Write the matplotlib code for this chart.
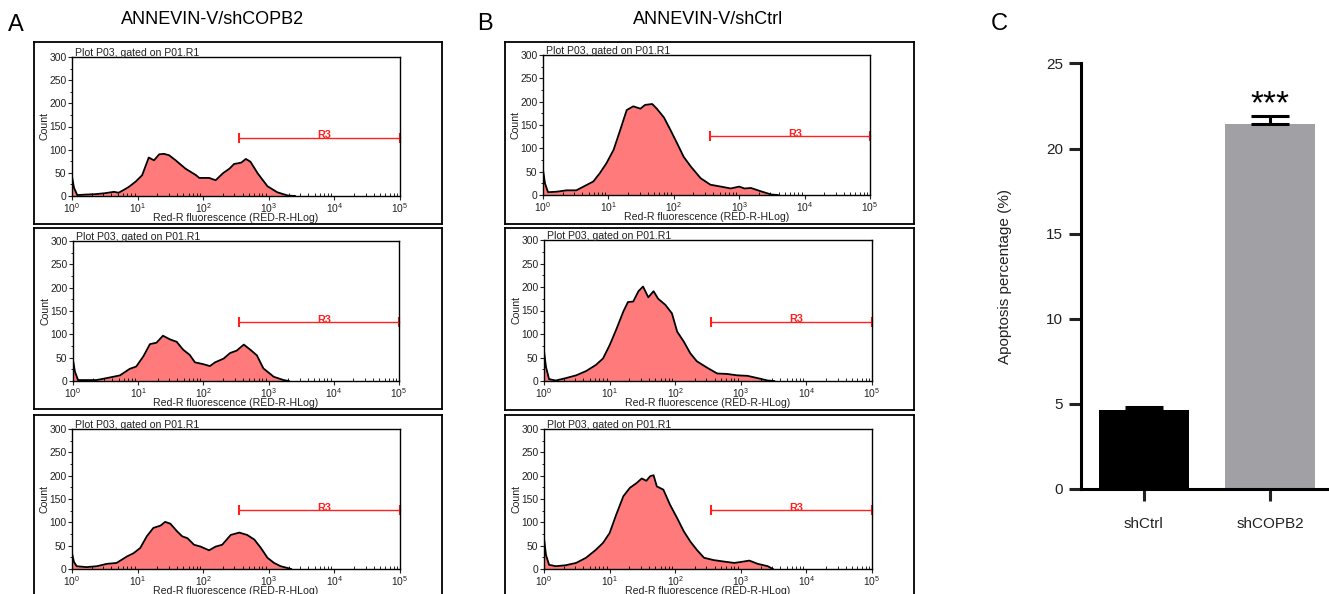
import numpy as np
import matplotlib
matplotlib.use("Agg")
import matplotlib.pyplot as plt
from matplotlib.ticker import MultipleLocator, LogLocator, NullFormatter

plt.rcParams['font.family'] = ['Liberation Sans', 'DejaVu Sans']
plt.rcParams['mathtext.default'] = 'regular'

W, H = 1329, 594

# flow histograms: x in log10(fluorescence), y = count
a1_log = [0, 0, 0.03, 0.08, 0.2, 0.36, 0.5, 0.64, 0.71, 0.8, 0.87, 0.97, 1.07, 1.17, 1.25, 1.33, 1.40, 1.48,
          1.58, 1.73, 1.89, 1.94, 2.09, 2.19, 2.30, 2.40, 2.47, 2.58, 2.65, 2.72, 2.83, 2.98, 3.13, 3.29, 3.4]
a1_cnt = [0, 42, 18, 2, 3, 4, 6, 9, 7, 14, 20, 31, 45, 83, 77, 90, 91, 88,
          77, 59, 45, 39, 39, 34, 49, 59, 69, 72, 80, 74, 49, 21, 8, 1, 0]

a2_log = [0, 0, 0.03, 0.077, 0.21, 0.36, 0.51, 0.72, 0.87, 0.97, 1.08, 1.18, 1.28, 1.38, 1.49, 1.59,
          1.69, 1.79, 1.87, 2.0, 2.10, 2.18, 2.31, 2.41, 2.51, 2.62, 2.72, 2.82, 2.92, 3.08, 3.23, 3.31]
a2_cnt = [0, 45, 20, 2, 2, 2, 6, 12, 26, 31, 53, 79, 82, 97, 89, 84,
          67, 56, 40, 36, 32, 40, 48, 60, 65, 78, 67, 55, 27, 9, 2, 0]

a3_log = [0, 0, 0.03, 0.071, 0.22, 0.38, 0.53, 0.68, 0.84, 0.94, 1.04, 1.14, 1.24, 1.35, 1.42, 1.50, 1.60,
          1.68, 1.76, 1.86, 1.96, 2.09, 2.19, 2.29, 2.42, 2.55, 2.67, 2.78, 2.88, 2.98, 3.08, 3.18, 3.29, 3.34]
a3_cnt = [0, 34, 15, 6, 4, 6, 11, 13, 27, 34, 45, 70, 88, 93, 101, 97, 81,
          70, 66, 52, 48, 40, 48, 52, 73, 78, 73, 63, 45, 24, 13, 6, 2, 0]

b1_log = [0, 0, 0.03, 0.077, 0.205, 0.36, 0.51, 0.62, 0.77, 0.87, 0.97, 1.08, 1.18, 1.28, 1.38, 1.49, 1.56,
          1.67, 1.74, 1.85, 1.95, 2.05, 2.15, 2.26, 2.41, 2.56, 2.72, 2.87, 3.0, 3.08, 3.18, 3.33, 3.49, 3.59]
b1_cnt = [0, 54, 25, 6, 7, 10, 10, 18, 29, 47, 68, 97, 139, 182, 190, 185, 193,
          195, 185, 166, 139, 111, 82, 61, 36, 22, 18, 14, 18, 14, 15, 8, 1, 0]

b2_log = [0, 0, 0.03, 0.077, 0.18, 0.33, 0.49, 0.64, 0.79, 0.90, 1.0, 1.10, 1.21, 1.28, 1.36, 1.44, 1.51,
          1.59, 1.67, 1.74, 1.85, 1.95, 2.03, 2.13, 2.23, 2.33, 2.49, 2.64, 2.79, 2.95, 3.10, 3.26, 3.41, 3.51]
b2_cnt = [0, 64, 30, 4, 1, 6, 12, 21, 34, 48, 76, 109, 148, 168, 169, 191, 201,
          178, 191, 175, 162, 144, 105, 84, 59, 42, 28, 16, 15, 12, 11, 6, 1, 0]

b3_log = [0, 0, 0.03, 0.077, 0.18, 0.33, 0.49, 0.64, 0.79, 0.90, 1.0, 1.10, 1.21, 1.31, 1.41, 1.49, 1.56,
          1.62, 1.67, 1.72, 1.82, 1.92, 2.03, 2.13, 2.23, 2.33, 2.44, 2.59, 2.74, 2.90, 3.0, 3.13, 3.26, 3.41, 3.49]
b3_cnt = [0, 66, 30, 9, 6, 8, 13, 24, 41, 56, 77, 116, 156, 174, 184, 194, 189,
          199, 201, 177, 170, 138, 109, 81, 59, 41, 24, 19, 16, 13, 15, 18, 11, 6, 0]

# R3 gate
gate_log = [2.55, 5.0]
gate_cnt = 126

# panel C
groups = ["shCtrl", "shCOPB2"]
apoptosis = [4.64, 21.42]
apoptosis_err = [0.18, 0.5]

fig = plt.figure(figsize=(W / 100, H / 100), dpi=100)


def px_axes(l, t, r, b):
    return fig.add_axes([l / W, 1 - b / H, (r - l) / W, (b - t) / H])


def frame(l, t, r, b):
    ax = px_axes(l, t, r, b)
    ax.set_xticks([])
    ax.set_yticks([])
    for s in ax.spines.values():
        s.set_linewidth(1.3)
    return ax


def draw_hist(ax, logs, cnts):
    x = 10 ** np.asarray(logs, dtype=float)
    ax.fill_between(x, cnts, color='#ff7b7b', lw=0)
    ax.plot(x, cnts, color='black', lw=1.3, solid_joinstyle='round')
    ax.set_xscale('log')
    ax.set_xlim(1, 1e5)
    ax.set_ylim(0, 300)
    ax.yaxis.set_major_locator(MultipleLocator(50))
    ax.yaxis.set_minor_locator(MultipleLocator(25))
    ax.xaxis.set_major_locator(LogLocator(base=10))
    ax.xaxis.set_minor_locator(LogLocator(base=10, subs=np.arange(2, 10)))
    ax.xaxis.set_minor_formatter(NullFormatter())
    ax.tick_params(axis='both', which='major', length=3, width=0.8, labelsize=7.4, pad=1, colors='#222')
    ax.tick_params(axis='y', which='minor', length=1.5, width=0.6)
    ax.tick_params(axis='x', which='minor', direction='in', length=2, width=0.6)
    for s in ax.spines.values():
        s.set_linewidth(1.0)
    ax.set_xlabel('Red-R fluorescence (RED-R-HLog)', fontsize=7.6, labelpad=-1.8, color='#222')
    ax.set_ylabel('Count', fontsize=7.6, labelpad=0, color='#222')
    ax.text(0.01, 0.995, 'Plot P03, gated on P01.R1', transform=ax.transAxes,
            fontsize=7.6, va='bottom', color='#222')
    gx = 10 ** np.asarray(gate_log)
    ax.plot(gx, [gate_cnt, gate_cnt], color='#ff2020', lw=1.0, clip_on=False)
    ax.plot(gx, [gate_cnt, gate_cnt], ls='none', marker='|', ms=7, mew=1.5,
            color='#ff2020', clip_on=False)
    ax.text(10 ** 3.85, gate_cnt - 5, 'R3', color='#ff2020', fontsize=7.8,
            ha='center', va='bottom', fontweight='bold')


a_frames = [(34, 42, 442, 224), (34, 228, 442, 409), (34, 415, 442, 610)]
b_frames = [(505, 42, 914, 224), (505, 228, 914, 410), (505, 415, 914, 610)]
a_boxes = [(72, 57, 400, 196), (73, 241, 399, 381), (72, 429, 400, 569)]
b_boxes = [(543, 55, 870, 195), (544, 240, 872, 381), (544, 429, 872, 569)]
a_data = [(a1_log, a1_cnt), (a2_log, a2_cnt), (a3_log, a3_cnt)]
b_data = [(b1_log, b1_cnt), (b2_log, b2_cnt), (b3_log, b3_cnt)]

for fr, box, (lg, ct) in zip(a_frames + b_frames, a_boxes + b_boxes, a_data + b_data):
    frame(*fr)
    draw_hist(px_axes(*box), lg, ct)

fig.text(213 / W, 1 - 20 / H, 'ANNEVIN-V/shCOPB2', ha='center', va='center', fontsize=13)
fig.text(708 / W, 1 - 20 / H, 'ANNEVIN-V/shCtrl', ha='center', va='center', fontsize=13)
fig.text(8 / W, 1 - 25 / H, 'A', ha='left', va='center', fontsize=17)
fig.text(477 / W, 1 - 24 / H, 'B', ha='left', va='center', fontsize=17)
fig.text(991 / W, 1 - 24 / H, 'C', ha='left', va='center', fontsize=17)

# panel C bar chart
axc = px_axes(1080.7, 63.4, 1333, 489)
xpos = np.arange(len(groups))
axc.bar(xpos, apoptosis, width=0.71, color=['black', '#a1a1a5'],
        yerr=[[0, 0], apoptosis_err],
        error_kw=dict(ecolor='black', elinewidth=2.2, capsize=14, capthick=2.2))
axc.set_xlim(-0.5, 1.5)
axc.set_ylim(0, 25)
axc.set_yticks(np.arange(0, 26, 5))
axc.set_xticks(xpos)
axc.set_xticklabels(groups)
for side in ['top', 'right']:
    axc.spines[side].set_visible(False)
for side in ['left', 'bottom']:
    axc.spines[side].set_linewidth(2.2)
    axc.spines[side].set_capstyle('projecting')
axc.tick_params(axis='y', length=8.5, width=2.2, labelsize=11, pad=4, colors='#222')
axc.tick_params(axis='x', length=8.5, width=2.2, labelsize=11, pad=12, colors='#222')
axc.set_ylabel('Apoptosis percentage (%)', fontsize=11, color='#222')
axc.yaxis.set_label_coords(-0.272, 0.5)
axc.text(1, 22.1, '***', ha='center', va='baseline', fontsize=24)

fig.savefig('out.png', dpi=100)
